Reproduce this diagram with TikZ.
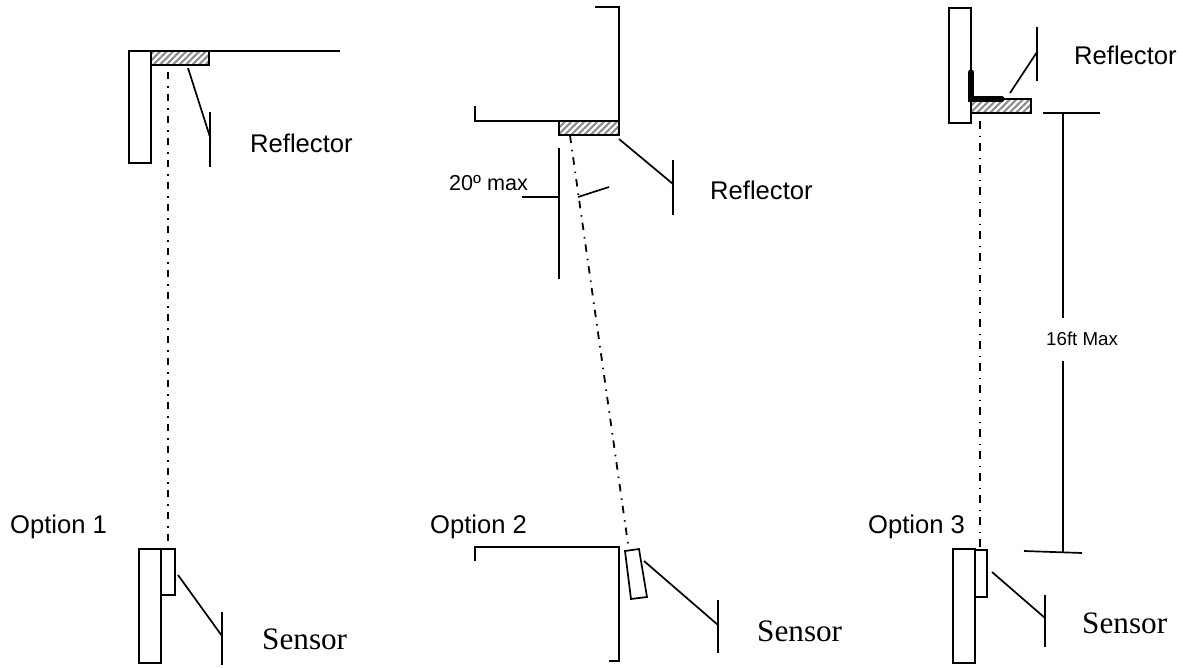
\documentclass[tikz,border=0pt]{standalone}
\usepackage{fontspec}
\setmainfont{Liberation Sans}
\newfontfamily\serifx{Liberation Serif}
\usetikzlibrary{patterns.meta}
\tikzset{
  ln/.style={line width=1.7pt,black,line cap=butt},
  hatchbox/.style={draw=black,line width=1.7pt,preaction={fill=white},pattern={Lines[angle=45,distance=4.6pt,line width=2.1pt]},pattern color=black!45},
  beam/.style={line width=1.8pt,black,dash pattern=on 7.5pt off 7pt on 1.5pt off 6pt},
  lab/.style={inner sep=0pt,anchor=base west,font=\fontsize{25.6}{26}\selectfont},
  labsm/.style={inner sep=0pt,anchor=base west,font=\fontsize{21.6}{22}\selectfont},
  labdim/.style={inner sep=0pt,anchor=base west,font=\fontsize{18.7}{19}\selectfont},
  sens/.style={inner sep=0pt,anchor=base west,font=\serifx\fontsize{31.2}{32}\selectfont},
}
\begin{document}
\begin{tikzpicture}[x=1pt,y=-1pt]
\useasboundingbox (0,0) rectangle (1183,667);
% --- Option 1
\coordinate (b1a) at (168,49.5); \coordinate (b1b) at (168,541);
\draw[beam] (b1a) -- (b1b);
\draw[ln] (129,51) rectangle (151,163);
\draw[ln] (209,51) -- (340,51);
\draw[hatchbox] (151,51) rectangle (209,65);
\coordinate (l1a) at (188,68); \coordinate (l1b) at (210,137);
\draw[ln] (l1a) -- (l1b);
\draw[ln] (210,112) -- (210,167);
\node[lab] (r1) at (250,152) {Reflector};
\node[lab] (o1) at (10,533) {Option 1};
\draw[ln] (139,549) rectangle (161,663);
\draw[ln] (161,549) rectangle (175,595);
\coordinate (l2a) at (178,575); \coordinate (l2b) at (222,636);
\draw[ln] (l2a) -- (l2b);
\draw[ln] (222,612) -- (222,665);
\node[sens] (s1) at (262,649) {Sensor};
% --- Option 2
\draw[ln] (475,106) -- (475,120.7) -- (619,120.7) -- (619,7) -- (595,7);
\draw[hatchbox] (559,120.7) rectangle (619,135);
\coordinate (b2a) at (570,135.5); \coordinate (b2b) at (628,544);
\draw[beam] (b2a) -- (b2b);
\draw[ln] (559,148) -- (559,279);
\draw[ln] (522,197) -- (559,197);
\coordinate (t2a) at (578,197); \coordinate (t2b) at (609,187);
\draw[ln] (t2a) -- (t2b);
\node[labsm] (ang) at (449,190) {20º max};
\coordinate (l3a) at (619,139); \coordinate (l3b) at (673,184);
\draw[ln] (l3a) -- (l3b);
\draw[ln] (673,160) -- (673,215);
\node[lab] (r2) at (710,199) {Reflector};
\node[lab] (o2) at (430,533) {Option 2};
\draw[ln] (475,561) -- (475,547) -- (619,547) -- (619,661) -- (609,661);
\draw[ln] (625,551) -- (639,549) -- (647,597) -- (631,599) -- cycle;
\coordinate (l4a) at (644,561); \coordinate (l4b) at (718,625);
\draw[ln] (l4a) -- (l4b);
\draw[ln] (718,600) -- (718,653);
\node[sens] (s2) at (757,641) {Sensor};
% --- Option 3
\coordinate (b3a) at (980,121); \coordinate (b3b) at (980,547);
\draw[beam] (b3a) -- (b3b);
\draw[ln] (949,8) rectangle (971,123);
\draw[hatchbox] (971,99) rectangle (1031,113);
\draw[line width=5.2pt,black,line cap=round,line join=miter] (971,72) -- (971,99) -- (1002,99);
\coordinate (l5a) at (1010,93); \coordinate (l5b) at (1037,52);
\draw[ln] (l5a) -- (l5b);
\draw[ln] (1037,27) -- (1037,81);
\node[lab] (r3) at (1074,64) {Reflector};
\draw[ln] (1043,113) -- (1100,113);
\node[labdim] (dim) at (1046,345) {16ft Max};
\draw[ln] (1063,113) -- (1063,318);
\draw[ln] (1063,361) -- (1063,551.5);
\draw[ln] (1024,551) -- (1082,553);
\node[lab] (o3) at (868,533) {Option 3};
\draw[ln] (953,549) rectangle (975,663);
\draw[ln] (975,550) rectangle (987,597);
\coordinate (l6a) at (992,572); \coordinate (l6b) at (1045,618);
\draw[ln] (l6a) -- (l6b);
\draw[ln] (1045,595) -- (1045,647);
\node[sens] (s3) at (1082,633) {Sensor};
\end{tikzpicture}
\end{document}
